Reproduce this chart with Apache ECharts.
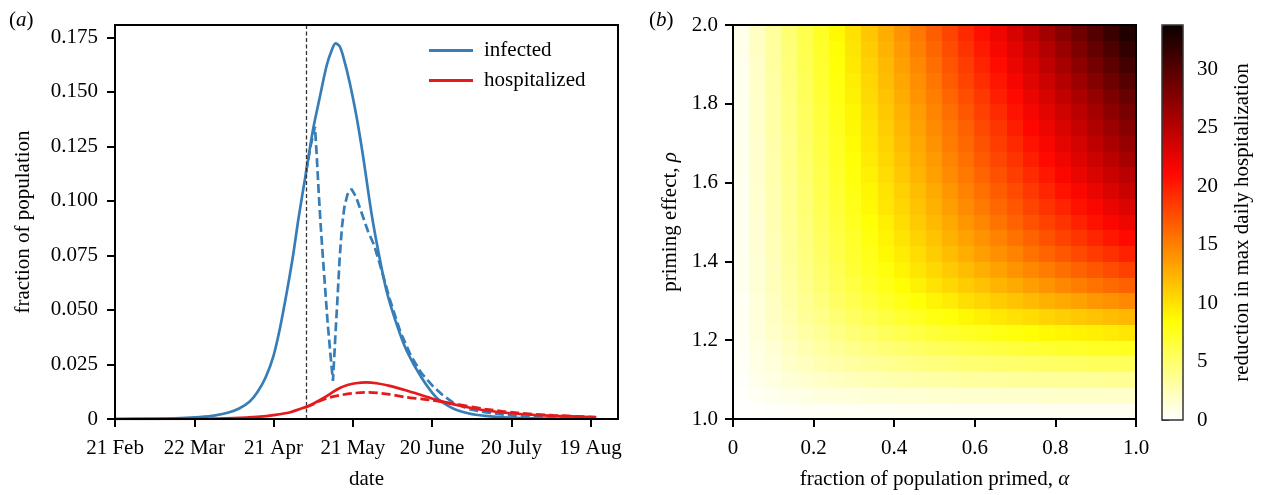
<!DOCTYPE html>
<html><head><meta charset="utf-8">
<script src="https://cdn.jsdelivr.net/npm/echarts@6/dist/echarts.min.js"></script>
<style>html,body{margin:0;padding:0;background:#fff}#c{width:1261px;height:495px}</style>
</head><body><div id="c"></div><script>
// ---------- panel (a) data ----------
const dateTickDays = [0, 30, 60, 90, 120, 150, 180];
const dateTickLabels = ['21 Feb', '22 Mar', '21 Apr', '21 May', '20 June', '20 July', '19 Aug'];
const fractionTicks = [0, 0.025, 0.05, 0.075, 0.1, 0.125, 0.15, 0.175];
const interventionDay = 72.3;

const infectedDays = [0,15,25,32,38,43,47,51,54,57,60,62.5,65,67.4,69.4,72.3,75,77.6,80.1,82,83.5,85,86.4,88.9,91.4,93.9,97,99.5,102.8,106.6,110.4,116,121.7,128,134,140,147,160,182];
const infectedValues = [0,0.0001,0.0004,0.0009,0.0017,0.003,0.0048,0.008,0.0125,0.019,0.029,0.042,0.058,0.075,0.0915,0.113,0.133,0.148,0.162,0.169,0.1723,0.171,0.1662,0.154,0.1388,0.1205,0.095,0.078,0.0587,0.0435,0.0313,0.019,0.0098,0.0048,0.0025,0.0014,0.0008,0.0003,0.0001];

const primedInfDays = [72.3,74,75.7,76.4,77.1,77.9,78.7,79.6,80.5,81.6,82.5,83.5,84.3,85.0,85.9,86.8,88,89.5,91.2,93.5,95.8,98,100.5,104,108,112,116,120.4,124,128,134,140.6,153,165,182];
const primedInfValues = [0.113,0.125,0.134,0.12,0.104,0.088,0.074,0.059,0.044,0.029,0.0175,0.04,0.057,0.073,0.088,0.097,0.103,0.1055,0.102,0.094,0.086,0.080,0.070,0.055,0.040,0.029,0.021,0.015,0.011,0.0075,0.0045,0.003,0.0012,0.0006,0.0003];

const hospDays = [0,30,45,55,60,66,70,72.5,75,78.8,82,85.1,88,91,95.2,99,104,110,116.7,123,130.5,140.6,153,165.8,182.2];
const hospValues = [0,0.0001,0.0004,0.0011,0.0018,0.003,0.0046,0.0056,0.007,0.0095,0.012,0.0142,0.0156,0.0164,0.0168,0.0164,0.0152,0.0132,0.0107,0.0083,0.0061,0.0039,0.0023,0.0015,0.0008];

const primedHospDays = [72.3,75,78,81,85.1,90,95.2,100,104,110,116,120,125,130,140,153,166,182];
const primedHospValues = [0.0055,0.0068,0.0085,0.0098,0.0109,0.0118,0.0122,0.0119,0.0113,0.0100,0.0092,0.0086,0.0076,0.0066,0.0046,0.0027,0.0017,0.0009];

// ---------- panel (b) data ----------
const alphaCenters = [0.02,0.06,0.10,0.14,0.18,0.22,0.26,0.30,0.34,0.38,0.42,0.46,0.50,0.54,0.58,0.62,0.66,0.70,0.74,0.78,0.82,0.86,0.90,0.94,0.98];
const rhoCenters = [1.02,1.06,1.10,1.14,1.18,1.22,1.26,1.30,1.34,1.38,1.42,1.46,1.50,1.54,1.58,1.62,1.66,1.70,1.74,1.78,1.82,1.86,1.90,1.94,1.98];
const reductionRows = [
 [0.05,0.13,0.2,0.25,0.3,0.34,0.37,0.39,0.41,0.43,0.44,0.45,0.46,0.47,0.48,0.48,0.49,0.49,0.49,0.49,0.5,0.5,0.5,0.5,0.5],
 [0.1,0.4,0.6,0.8,0.9,1.1,1.2,1.3,1.4,1.4,1.5,1.5,1.6,1.6,1.7,1.7,1.7,1.7,1.7,1.8,1.8,1.8,1.8,1.8,1.8],
 [0.2,0.7,1.0,1.4,1.6,1.9,2.1,2.3,2.5,2.6,2.8,2.9,3.0,3.1,3.2,3.2,3.3,3.4,3.4,3.4,3.5,3.5,3.5,3.6,3.6],
 [0.3,0.9,1.3,1.8,2.2,2.6,2.9,3.2,3.5,3.7,4.0,4.2,4.4,4.5,4.7,4.8,4.9,5.0,5.1,5.2,5.3,5.4,5.5,5.5,5.6],
 [0.3,1.0,1.5,2.1,2.6,3.1,3.5,3.9,4.3,4.6,4.9,5.2,5.5,5.7,6.0,6.2,6.4,6.6,6.7,6.9,7.1,7.2,7.3,7.4,7.5],
 [0.4,1.1,1.8,2.4,3.0,3.5,4.1,4.6,5.0,5.5,5.9,6.3,6.7,7.0,7.3,7.6,7.9,8.2,8.5,8.7,8.9,9.1,9.3,9.5,9.7],
 [0.4,1.2,2.0,2.7,3.4,4.0,4.7,5.3,5.8,6.4,6.9,7.4,7.9,8.3,8.8,9.2,9.6,10.0,10.3,10.7,11.0,11.3,11.6,11.9,12.2],
 [0.4,1.3,2.1,2.9,3.7,4.4,5.2,5.9,6.5,7.2,7.8,8.4,9.0,9.5,10.1,10.6,11.1,11.6,12.0,12.5,12.9,13.3,13.8,14.1,14.5],
 [0.5,1.4,2.3,3.1,4.0,4.8,5.6,6.3,7.1,7.8,8.5,9.2,9.9,10.5,11.1,11.7,12.3,12.9,13.5,14.0,14.6,15.1,15.6,16.1,16.6],
 [0.5,1.4,2.3,3.2,4.1,5.0,5.8,6.7,7.5,8.2,9.0,9.8,10.5,11.2,11.9,12.6,13.3,14.0,14.6,15.2,15.9,16.5,17.1,17.6,18.2],
 [0.5,1.5,2.4,3.4,4.3,5.2,6.1,7.0,7.8,8.7,9.5,10.3,11.1,11.9,12.7,13.5,14.2,14.9,15.7,16.4,17.1,17.8,18.5,19.1,19.8],
 [0.5,1.5,2.5,3.5,4.4,5.4,6.3,7.2,8.1,9.0,9.9,10.8,11.6,12.5,13.3,14.1,14.9,15.7,16.5,17.3,18.1,18.8,19.6,20.3,21.0],
 [0.5,1.5,2.6,3.6,4.5,5.5,6.5,7.5,8.4,9.3,10.3,11.2,12.1,13.0,13.9,14.7,15.6,16.5,17.3,18.1,18.9,19.8,20.6,21.3,22.1],
 [0.5,1.6,2.6,3.7,4.7,5.7,6.7,7.7,8.7,9.7,10.6,11.6,12.5,13.5,14.4,15.3,16.2,17.1,18.0,18.9,19.7,20.6,21.4,22.3,23.1],
 [0.5,1.6,2.7,3.8,4.8,5.9,6.9,7.9,8.9,9.9,10.9,11.9,12.9,13.9,14.9,15.8,16.8,17.7,18.7,19.6,20.5,21.4,22.3,23.2,24.1],
 [0.6,1.7,2.8,3.9,4.9,6.0,7.1,8.2,9.2,10.3,11.3,12.3,13.4,14.4,15.4,16.4,17.4,18.4,19.3,20.3,21.3,22.2,23.2,24.1,25.0],
 [0.6,1.7,2.8,4.0,5.1,6.2,7.3,8.4,9.5,10.5,11.6,12.7,13.7,14.8,15.8,16.9,17.9,18.9,20.0,21.0,22.0,23.0,24.0,24.9,25.9],
 [0.6,1.7,2.9,4.0,5.2,6.3,7.4,8.6,9.7,10.8,11.9,13.0,14.1,15.2,16.2,17.3,18.4,19.4,20.5,21.5,22.6,23.6,24.7,25.7,26.7],
 [0.6,1.8,3.0,4.1,5.3,6.4,7.6,8.8,9.9,11.0,12.2,13.3,14.4,15.5,16.6,17.8,18.8,20.0,21.1,22.1,23.2,24.3,25.4,26.4,27.5],
 [0.6,1.8,3.0,4.2,5.4,6.6,7.8,8.9,10.1,11.3,12.4,13.6,14.8,15.9,17.1,18.2,19.3,20.5,21.6,22.7,23.8,24.9,26.0,27.2,28.2],
 [0.6,1.8,3.1,4.3,5.5,6.7,8.0,9.2,10.4,11.6,12.8,14.0,15.1,16.3,17.5,18.7,19.9,21.0,22.2,23.4,24.5,25.7,26.8,28.0,29.1],
 [0.6,1.9,3.1,4.4,5.6,6.9,8.1,9.4,10.6,11.9,13.1,14.3,15.5,16.8,18.0,19.2,20.4,21.6,22.8,24.0,25.2,26.4,27.6,28.8,30.0],
 [0.6,1.9,3.2,4.5,5.8,7.0,8.3,9.6,10.9,12.1,13.4,14.6,15.9,17.2,18.4,19.7,20.9,22.2,23.4,24.7,25.9,27.2,28.4,29.6,30.9],
 [0.7,2.0,3.3,4.6,5.9,7.2,8.5,9.8,11.1,12.4,13.7,15.0,16.3,17.6,18.9,20.2,21.5,22.7,24.0,25.3,26.6,27.9,29.2,30.5,31.8],
 [0.7,2.0,3.3,4.7,6.0,7.3,8.7,10.0,11.4,12.7,14.0,15.4,16.7,18.0,19.4,20.7,22.0,23.4,24.7,26.1,27.4,28.7,30.1,31.4,32.7]
];
const alphaTicks = [0, 0.2, 0.4, 0.6, 0.8, 1.0];
const colorbarMax = 33.8;
const colorbarTicks = [0, 5, 10, 15, 20, 25, 30];
const hotReversed = ['#ffffff','#ffff82','#ffff04','#ffae00','#ff5a00','#ff0700','#b20000','#5e0000','#0b0000'];

// ---------- build ----------
const FONT = 'Liberation Serif';
const FS = 21;
const BLUE = '#377eb8', RED = '#e41a1c';
const zip = (xs, ys) => xs.map((x, i) => [x, ys[i]]);
const heatData = [];
reductionRows.forEach((row, j) => row.forEach((v, i) => heatData.push([alphaCenters[i], rhoCenters[j], v])));
const halfA = (alphaCenters[1] - alphaCenters[0]) / 2;
const halfR = (rhoCenters[1] - rhoCenters[0]) / 2;

const txt = {fontSize: FS, fontFamily: FONT, color: '#000'};
const rich = {i: {fontSize: FS, fontFamily: FONT, color: '#000', fontStyle: 'italic'}};
function baseAxis(extra) {
  return Object.assign({
    type: 'value',
    axisLine: {show: true, onZero: false, lineStyle: {color: '#000', width: 2}},
    axisTick: {show: true, length: 8, lineStyle: {color: '#000', width: 2}},
    axisLabel: Object.assign({}, txt),
    splitLine: {show: false},
    nameLocation: 'middle',
    nameTextStyle: Object.assign({rich: rich}, txt)
  }, extra);
}

const chart = echarts.init(document.getElementById('c'), null, {renderer: 'canvas'});
chart.setOption({
  animation: false,
  backgroundColor: '#fff',
  title: [
    {text: '({i|a})', left: 9, top: 10, padding: 0, textStyle: Object.assign({fontWeight: 'normal', rich: rich}, txt)},
    {text: '({i|b})', left: 649, top: 10, padding: 0, textStyle: Object.assign({fontWeight: 'normal', rich: rich}, txt)}
  ],
  grid: [
    {left: 115, top: 25, width: 503, height: 395, show: true, borderColor: '#000', borderWidth: 2, z: 10},
    {left: 733, top: 25, width: 403, height: 395, show: true, borderColor: '#000', borderWidth: 2, z: 10},
    {left: 1162, top: 25, width: 21, height: 395, show: true, borderColor: '#333', borderWidth: 1.5, z: 10}
  ],
  legend: {
    data: ['infected', 'hospitalized'], orient: 'vertical', left: 429, top: 40, padding: 0,
    icon: 'rect', itemWidth: 44, itemHeight: 3, itemGap: 9,
    textStyle: Object.assign({padding: [0, 0, 0, 6]}, txt)
  },
  xAxis: [
    baseAxis({gridIndex: 0, min: 0, max: 190.4,
      axisTick: {show: true, length: 8, lineStyle: {color: '#000', width: 2}, customValues: dateTickDays},
      axisLabel: Object.assign({customValues: dateTickDays, margin: 19,
        formatter: v => { const k = dateTickDays.indexOf(v); return k < 0 ? '' : dateTickLabels[k]; }}, txt),
      name: 'date', nameGap: 50}),
    baseAxis({gridIndex: 1, min: 0, max: 1,
      axisTick: {show: true, length: 8, lineStyle: {color: '#000', width: 2}, customValues: alphaTicks},
      axisLabel: Object.assign({customValues: alphaTicks, margin: 19,
        formatter: v => v === 0 ? '0' : v.toFixed(1)}, txt),
      name: 'fraction of population primed, {i|α}', nameGap: 50}),
    {gridIndex: 2, type: 'value', min: 0, max: 1, show: false}
  ],
  yAxis: [
    baseAxis({gridIndex: 0, min: 0, max: 0.1807,
      axisTick: {show: true, length: 8, lineStyle: {color: '#000', width: 2}, customValues: fractionTicks},
      axisLabel: Object.assign({customValues: fractionTicks, margin: 17,
        formatter: v => v === 0 ? '0' : v.toFixed(3)}, txt),
      name: 'fraction of population', nameGap: 81}),
    baseAxis({gridIndex: 1, min: 1, max: 2, interval: 0.2,
      axisLabel: Object.assign({margin: 15, formatter: v => v.toFixed(1)}, txt),
      name: 'priming effect, {i|ρ}', nameGap: 52}),
    baseAxis({gridIndex: 2, min: 0, max: colorbarMax, position: 'right',
      axisLine: {show: false},
      axisTick: {show: true, length: 7, lineStyle: {color: '#000', width: 1.5}, customValues: colorbarTicks},
      axisLabel: Object.assign({customValues: colorbarTicks, margin: 14}, txt),
      name: 'reduction in max daily hospitalization', nameGap: 49})
  ],
  visualMap: {
    type: 'continuous', min: 0, max: colorbarMax, dimension: 2, seriesIndex: 4,
    left: 1162, top: 25, itemWidth: 21, itemHeight: 395, padding: 0,
    calculable: false, orient: 'vertical', inRange: {color: hotReversed}
  },
  series: [
    {name: 'infected', type: 'line', xAxisIndex: 0, yAxisIndex: 0, data: zip(infectedDays, infectedValues),
      symbol: 'none', smooth: 0.3, lineStyle: {color: BLUE, width: 2.7}, itemStyle: {color: BLUE}, z: 3,
      markLine: {silent: true, symbol: ['none', 'none'], label: {show: false},
        lineStyle: {color: '#333', type: [4, 2.5], width: 1.3}, data: [{xAxis: interventionDay}]}},
    {name: 'infected, primed', type: 'line', xAxisIndex: 0, yAxisIndex: 0, data: zip(primedInfDays, primedInfValues),
      symbol: 'none', smooth: false, lineStyle: {color: BLUE, width: 2.7, type: [9, 4]}, itemStyle: {color: BLUE}, z: 4},
    {name: 'hospitalized', type: 'line', xAxisIndex: 0, yAxisIndex: 0, data: zip(hospDays, hospValues),
      symbol: 'none', smooth: 0.3, lineStyle: {color: RED, width: 2.7}, itemStyle: {color: RED}, z: 5},
    {name: 'hospitalized, primed', type: 'line', xAxisIndex: 0, yAxisIndex: 0, data: zip(primedHospDays, primedHospValues),
      symbol: 'none', smooth: 0.3, lineStyle: {color: RED, width: 2.7, type: [9, 4]}, itemStyle: {color: RED}, z: 6},
    {name: 'reduction', type: 'custom', xAxisIndex: 1, yAxisIndex: 1, data: heatData, z: 1,
      encode: {x: 0, y: 1},
      renderItem: function (params, api) {
        const a = api.value(0), r = api.value(1);
        const tl = api.coord([a - halfA, r + halfR]);
        const br = api.coord([a + halfA, r - halfR]);
        const x0 = Math.floor(tl[0]), y0 = Math.floor(tl[1]);
        const x1 = Math.ceil(br[0]), y1 = Math.ceil(br[1]);
        return {type: 'rect', shape: {x: x0, y: y0, width: x1 - x0, height: y1 - y0},
          style: {fill: api.visual('color')}};
      }},
    {name: 'colorbar', type: 'line', xAxisIndex: 2, yAxisIndex: 2, data: [], silent: true}
  ]
});
</script></body></html>
